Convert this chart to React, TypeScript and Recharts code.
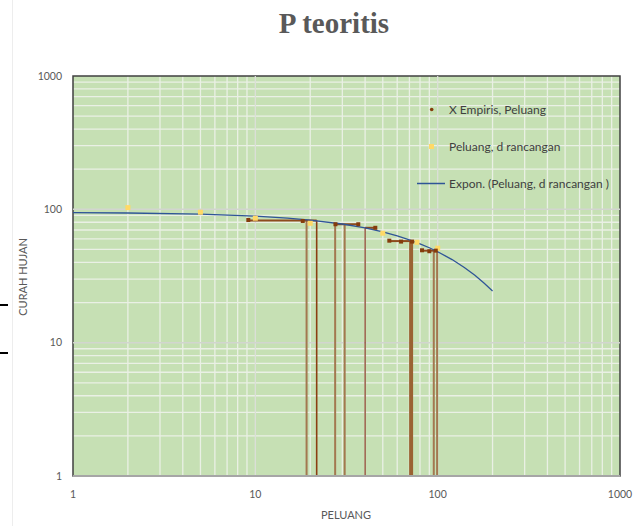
import {
  CartesianGrid,
  ComposedChart,
  Legend,
  Line,
  ReferenceArea,
  ReferenceLine,
  Scatter,
  XAxis,
  YAxis
} from 'recharts';

const xTicks = [1, 10, 100, 1000];
const yTicks = [1, 10, 100, 1000];

// X Empiris, Peluang
const empirisX = [9.15, 18.2, 27.5, 36.7, 45.5, 54.3, 63.0, 72.4, 82.1, 90.0, 97.6];
const empirisY = [83.2, 81.8, 77.3, 77.3, 72.7, 58.2, 57.3, 57.3, 49.3, 48.5, 49.0];

// Peluang, d rancangan
const rancanganX = [2, 5, 10, 20, 50, 77, 100];
const rancanganY = [103, 95.1, 85.8, 78.6, 66.2, 56.6, 51.1];

// Expon. trendline
const trendX = [1, 2, 5, 10, 15, 20, 30, 40, 50, 60, 70, 80, 90, 100, 120, 140, 160, 180, 200];
const trendY = [94.5, 93.9, 92.0, 88.9, 86.0, 83.1, 77.6, 72.5, 67.7, 63.2, 59.0, 55.1, 51.5, 48.1, 42.0, 36.6, 32.0, 27.9, 24.4];

// horizontal brown pieces
const segStart = [9.15, 27.5, 40.0, 54.3, 82.1];
const segEnd = [21.7, 36.7, 45.5, 72.4, 99.3];
const segY = [82.5, 77.3, 72.7, 57.8, 49.0];

// vertical brown drops down to the axis
const dropX = [19.1, 21.7, 27.4, 30.9, 40.0, 71.5, 95.2, 99.3];
const dropY = [82.5, 82.5, 77.3, 77.3, 72.7, 57.8, 49.0, 49.0];
const dropKind = ['light', 'dark', 'light', 'light', 'thin', 'thick', 'light', 'light'];

const legendNames = ['X Empiris, Peluang', 'Peluang, d rancangan', 'Expon. (Peluang, d rancangan )'];

const dropStyle: Record<string, { stroke: string; width: number }> = {
  light: { stroke: '#A37850', width: 2 },
  dark: { stroke: '#8B3E12', width: 1.6 },
  thin: { stroke: '#7E2A12', width: 1.1 },
  thick: { stroke: '#9A6232', width: 4 }
};

const minorSteps = [2, 3, 4, 5, 6, 7, 8, 9];
const minorGrid = [1, 10, 100].flatMap((d) => minorSteps.map((s) => s * d));

const font = 'Lato, "Open Sans", sans-serif';
const grey = '#595959';

const empirisData = empirisX.map((x, i) => ({ x, y: empirisY[i] }));
const rancanganData = rancanganX.map((x, i) => ({ x, y: rancanganY[i] }));
const trendData = trendX.map((x, i) => ({ x, y: trendY[i] }));

function renderLegend() {
  const rowH = 37;
  return (
    <div style={{ position: 'relative', width: 215, height: rowH * 3, fontFamily: font, fontSize: 12, color: '#404040' }}>
      {legendNames.map((name, i) => (
        <div key={name} style={{ position: 'absolute', left: 0, top: i * rowH, height: rowH, width: 215 }}>
          <svg width={34} height={rowH} style={{ position: 'absolute', left: 0, top: 0 }}>
            {i === 0 && <circle cx={16.7} cy={rowH / 2} r={1.8} fill="#843C0C" />}
            {i === 1 && <rect x={14} y={rowH / 2 - 2.5} width={5} height={5} fill="#FFD966" />}
            {i === 2 && <line x1={2} x2={30} y1={rowH / 2} y2={rowH / 2} stroke="#2F5597" strokeWidth={1.5} />}
          </svg>
          <span style={{ position: 'absolute', left: 34, top: 0, lineHeight: `${rowH}px`, whiteSpace: 'nowrap' }}>{name}</span>
        </div>
      ))}
    </div>
  );
}

export default function App() {
  return (
    <div style={{ position: 'absolute', left: 0, top: 0, width: 643, height: 526, background: '#fff', overflow: 'hidden' }}>
      <div style={{ position: 'absolute', left: 12, top: 0, width: 1, height: 526, background: '#EDEDED' }} />
      <div style={{ position: 'absolute', left: 0, top: 304, width: 8, height: 2, background: '#000' }} />
      <div style={{ position: 'absolute', left: 0, top: 352, width: 8, height: 2, background: '#000' }} />
      <div
        style={{
          position: 'absolute',
          left: 234,
          top: 9,
          width: 200,
          textAlign: 'center',
          fontFamily: '"Liberation Serif", "Times New Roman", serif',
          fontWeight: 'bold',
          fontSize: 29,
          lineHeight: '29px',
          color: grey
        }}
      >
        P teoritis
      </div>
      <ComposedChart width={643} height={526} margin={{ top: 76, right: 23, bottom: 0, left: 13 }}>
        <CartesianGrid
          fill="#C6E0B4"
          stroke="#EAF0E5"
          strokeWidth={1.3}
          verticalValues={minorGrid}
          horizontalValues={minorGrid}
        />
        {[10, 100].map((v) => (
          <ReferenceLine key={`gx${v}`} x={v} stroke="#DCDFD8" strokeWidth={1.3} />
        ))}
        {[10, 100].map((v) => (
          <ReferenceLine key={`gy${v}`} y={v} stroke="#D2D5CF" strokeWidth={1.5} />
        ))}
        <XAxis
          dataKey="x"
          type="number"
          scale="log"
          domain={[1, 1000]}
          allowDataOverflow
          ticks={xTicks}
          interval={0}
          height={50}
          tickLine={false}
          tickSize={0}
          tickMargin={15}
          axisLine={{ stroke: '#A6A6A6', strokeWidth: 2 }}
          tick={{ fill: grey, fontSize: 10.5, fontFamily: font }}
          label={() => (
            <text x={346} y={514} textAnchor="middle" dominantBaseline="central" fill={grey} fontSize={11} fontFamily={font}>
              PELUANG
            </text>
          )}
        />
        <YAxis
          type="number"
          scale="log"
          domain={[1, 1000]}
          allowDataOverflow
          ticks={yTicks}
          interval={0}
          width={60}
          axisLine={false}
          tickLine={false}
          tickSize={0}
          tickMargin={11}
          tick={{ fill: grey, fontSize: 10.5, fontFamily: font }}
          label={() => (
            <text
              x={22}
              y={277}
              transform="rotate(-90 22 277)"
              textAnchor="middle"
              dominantBaseline="central"
              fill={grey}
              fontSize={11}
              fontFamily={font}
            >
              CURAH HUJAN
            </text>
          )}
        />
        {dropX.map((x, i) => (
          <ReferenceLine
            key={`d${i}`}
            segment={[{ x, y: dropY[i] }, { x, y: 1 }]}
            stroke={dropStyle[dropKind[i]].stroke}
            strokeWidth={dropStyle[dropKind[i]].width}
          />
        ))}
        {segStart.map((x, i) => (
          <ReferenceLine
            key={`s${i}`}
            segment={[{ x, y: segY[i] }, { x: segEnd[i], y: segY[i] }]}
            stroke="#8E4A1E"
            strokeWidth={2}
          />
        ))}
        <Line
          data={trendData}
          dataKey="y"
          type="linear"
          stroke="#2F5597"
          strokeWidth={1.3}
          dot={false}
          activeDot={false}
          isAnimationActive={false}
        />
        <Scatter
          data={rancanganData}
          dataKey="y"
          fill="#FFD966"
          isAnimationActive={false}
          shape={(p: any) => <rect x={p.cx - 2.5} y={p.cy - 2.5} width={5} height={5} fill="#FFD966" />}
        />
        <Scatter
          data={empirisData}
          dataKey="y"
          fill="#843C0C"
          isAnimationActive={false}
          shape={(p: any) => <rect x={p.cx - 2} y={p.cy - 2} width={4} height={4} fill="#843C0C" />}
        />
        <ReferenceArea x1={1} x2={1000} y1={1} y2={1000} fill="none" stroke="#404040" strokeWidth={1.5} />
        <Legend
          layout="vertical"
          align="center"
          verticalAlign="middle"
          content={renderLegend}
          wrapperStyle={{ left: 415, top: 91, width: 215 }}
        />
      </ComposedChart>
    </div>
  );
}
